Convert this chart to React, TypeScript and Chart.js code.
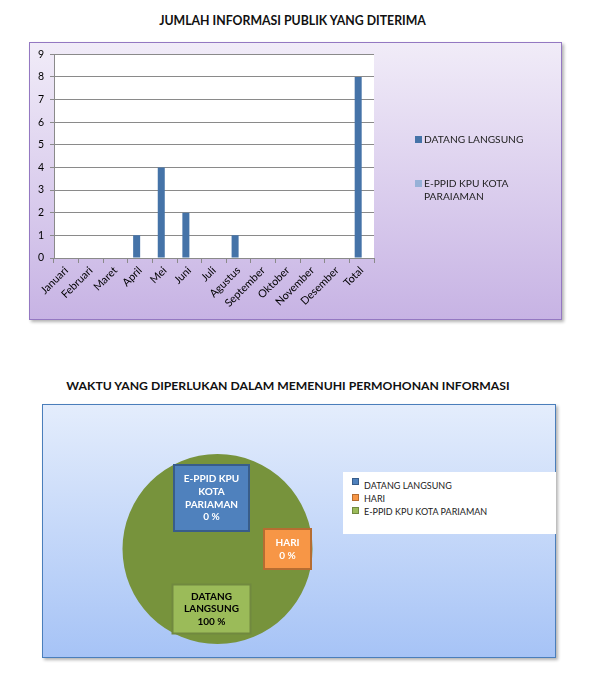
import { useEffect, useRef } from 'react';
import Chart from 'chart.js/auto';

document.body.style.margin = '0';

const FONT = 'Lato, "Open Sans", sans-serif';

// bar chart data
const months = ['Januari', 'Februari', 'Maret', 'April', 'Mei', 'Juni', 'Juli', 'Agustus', 'September', 'Oktober', 'November', 'Desember', 'Total'];
const datangLangsung = [0, 0, 0, 1, 4, 2, 0, 1, 0, 0, 0, 0, 8];
const eppidKpu = [0, 0, 0, 0, 0, 0, 0, 0, 0, 0, 0, 0, 0];
const barSeries = ['DATANG LANGSUNG', 'E-PPID KPU KOTA PARAIAMAN'];
const barLegendLines = [['DATANG LANGSUNG'], ['E-PPID KPU KOTA', 'PARAIAMAN']];
const barColors = ['#4573A8', '#97B1D7'];
const yMax = 9;

// pie chart data
const pieLabels = ['DATANG LANGSUNG', 'HARI', 'E-PPID KPU KOTA PARIAMAN'];
const pieValues = [100, 0, 0];
const pieBoxLines = [['DATANG', 'LANGSUNG'], ['HARI'], ['E-PPID KPU', 'KOTA', 'PARIAMAN']];
const pieLegendColors = [
  { fill: '#4F81BD', edge: '#385D8A' },
  { fill: '#F79646', edge: '#B66D31' },
  { fill: '#9BBB59', edge: '#71893F' },
];

// label boxes on the pie (offsets from centre, px)
const pieBoxes = [
  { dx: -6, dy: 60, w: 78, h: 49, fill: '#9BBB59', edge: '#71893F', text: '#000' },
  { dx: 70, dy: 0, w: 47, h: 40, fill: '#F79646', edge: '#B66D31', text: '#fff' },
  { dx: -6, dy: -51, w: 75, h: 66, fill: '#4F81BD', edge: '#385D8A', text: '#fff' },
];

const plotBg = {
  id: 'plotBg',
  beforeDraw(chart: Chart) {
    const { ctx, chartArea } = chart;
    ctx.save();
    ctx.fillStyle = '#fff';
    ctx.fillRect(chartArea.left, chartArea.top, chartArea.right - chartArea.left, chartArea.bottom - chartArea.top);
    ctx.restore();
  },
};

const pieBoxLabels = {
  id: 'pieBoxLabels',
  afterDraw(chart: Chart) {
    const { ctx } = chart;
    const arc: any = chart.getDatasetMeta(0).data[0];
    if (!arc) return;
    const total = pieValues.reduce((a, b) => a + b, 0);
    ctx.save();
    ctx.font = `bold 10px ${FONT}`;
    ctx.textAlign = 'center';
    ctx.textBaseline = 'middle';
    pieBoxes.forEach((b, i) => {
      const cx = arc.x + b.dx;
      const cy = arc.y + b.dy;
      ctx.fillStyle = b.fill;
      ctx.fillRect(cx - b.w / 2, cy - b.h / 2, b.w, b.h);
      ctx.strokeStyle = b.edge;
      ctx.lineWidth = 2;
      ctx.strokeRect(cx - b.w / 2, cy - b.h / 2, b.w, b.h);
      const lines = [...pieBoxLines[i], `${Math.round((pieValues[i] / total) * 100)} %`];
      const lh = 12.7;
      ctx.fillStyle = b.text;
      lines.forEach((t, k) => {
        ctx.fillText(t, cx, cy - ((lines.length - 1) * lh) / 2 + k * lh);
      });
    });
    ctx.restore();
  },
};

const BarChart = () => {
  const canvasRef = useRef<HTMLCanvasElement | null>(null);

  useEffect(() => {
    const ctx = canvasRef.current?.getContext('2d');
    if (!ctx) return;
    const chart = new Chart(ctx, {
      type: 'bar',
      data: {
        labels: months,
        datasets: [
          { label: barSeries[0], data: datangLangsung, backgroundColor: barColors[0], categoryPercentage: 0.57, barPercentage: 1 },
          { label: barSeries[1], data: eppidKpu, backgroundColor: barColors[1], categoryPercentage: 0.57, barPercentage: 1 },
        ],
      },
      options: {
        responsive: false,
        animation: false,
        layout: { padding: { top: 12, right: 188, left: 0, bottom: 0 } },
        plugins: { legend: { display: false }, tooltip: { enabled: false } },
        scales: {
          x: {
            grid: { display: true, drawOnChartArea: false, drawTicks: true, tickLength: 5, color: '#8A8A8A', offset: true },
            border: { color: '#8A8A8A' },
            ticks: { minRotation: 45, maxRotation: 45, autoSkip: false, color: '#000', padding: 1, font: { family: FONT, size: 10.8 } },
            afterFit: (s: any) => { s.height = 62; },
          },
          y: {
            min: 0,
            max: yMax,
            ticks: { stepSize: 1, color: '#000', padding: 6, font: { family: FONT, size: 10.5 } },
            grid: { color: '#8A8A8A', tickLength: 4 },
            border: { color: '#8A8A8A' },
            afterFit: (s: any) => { s.width = 25; },
          },
        },
      },
      plugins: [plotBg],
    });
    return () => chart.destroy();
  }, []);

  return (
    <div style={{ position: 'absolute', left: 29, top: 42, width: 533, height: 278, background: 'linear-gradient(#F1ECF8, #C7B3E4)', boxShadow: 'inset 0 0 0 1px #9478C2, 2px 2px 3px rgba(0,0,0,0.3)' }}>
      <canvas ref={canvasRef} width={533} height={278} style={{ position: 'absolute', left: 0, top: 0 }} />
      {barLegendLines.map((lines, i) => (
        <div key={i} style={{ position: 'absolute', left: 386, top: i === 0 ? 91 : 135, font: `10.2px ${FONT}`, lineHeight: '13px', color: '#222' }}>
          <span style={{ position: 'absolute', left: 0, top: 3, width: 7, height: 7, background: barColors[i] }} />
          {lines.map((t, k) => (
            <div key={k} style={{ paddingLeft: 9, whiteSpace: 'nowrap' }}>{t}</div>
          ))}
        </div>
      ))}
    </div>
  );
};

const PieChart = () => {
  const canvasRef = useRef<HTMLCanvasElement | null>(null);

  useEffect(() => {
    const ctx = canvasRef.current?.getContext('2d');
    if (!ctx) return;
    const chart = new Chart(ctx, {
      type: 'pie',
      data: {
        labels: pieLabels,
        datasets: [{ data: pieValues, backgroundColor: ['#77933C', '#F79646', '#4F81BD'], borderWidth: 0 }],
      },
      options: {
        responsive: false,
        animation: false,
        layout: { padding: { top: 50, bottom: 14, left: 80.5, right: 243.5 } },
        plugins: { legend: { display: false }, tooltip: { enabled: false } },
      },
      plugins: [pieBoxLabels],
    });
    return () => chart.destroy();
  }, []);

  const legendTops = [{ sq: 10, tx: 13.7 }, { sq: 26, tx: 27.3 }, { sq: 39, tx: 40.3 }];

  return (
    <div style={{ position: 'absolute', left: 42, top: 404, width: 514, height: 254, background: 'linear-gradient(#E4EDFC, #A6C3F6)', boxShadow: 'inset 0 0 0 1px #4A7EBB, 2px 2px 3px rgba(0,0,0,0.3)' }}>
      <canvas ref={canvasRef} width={514} height={254} style={{ position: 'absolute', left: 0, top: 0 }} />
      <div style={{ position: 'absolute', left: 301, top: 68, width: 213, height: 62, background: '#fff' }}>
        {pieLabels.map((t, i) => (
          <div key={i}>
            <span style={{ position: 'absolute', left: 9, top: legendTops[i].sq - 4, width: 5, height: 5, background: pieLegendColors[i].fill, border: `1.5px solid ${pieLegendColors[i].edge}` }} />
            <span style={{ position: 'absolute', left: 21, top: legendTops[i].tx - 7, font: `9px ${FONT}`, lineHeight: '14px', color: '#222', whiteSpace: 'nowrap' }}>{t}</span>
          </div>
        ))}
      </div>
    </div>
  );
};

export default function App() {
  return (
    <div style={{ position: 'relative', width: 607, height: 683, fontFamily: FONT }}>
      <div style={{ position: 'absolute', left: 0, top: 14, width: 585, textAlign: 'center', font: `bold 12.3px ${FONT}`, lineHeight: '14px', color: '#111' }}>
        JUMLAH INFORMASI PUBLIK YANG DITERIMA
      </div>
      <BarChart />
      <div style={{ position: 'absolute', left: 0, top: 379, width: 576, textAlign: 'center', font: `bold 12.2px ${FONT}`, lineHeight: '14px', color: '#111' }}>
        WAKTU YANG DIPERLUKAN DALAM MEMENUHI PERMOHONAN INFORMASI
      </div>
      <PieChart />
    </div>
  );
}
